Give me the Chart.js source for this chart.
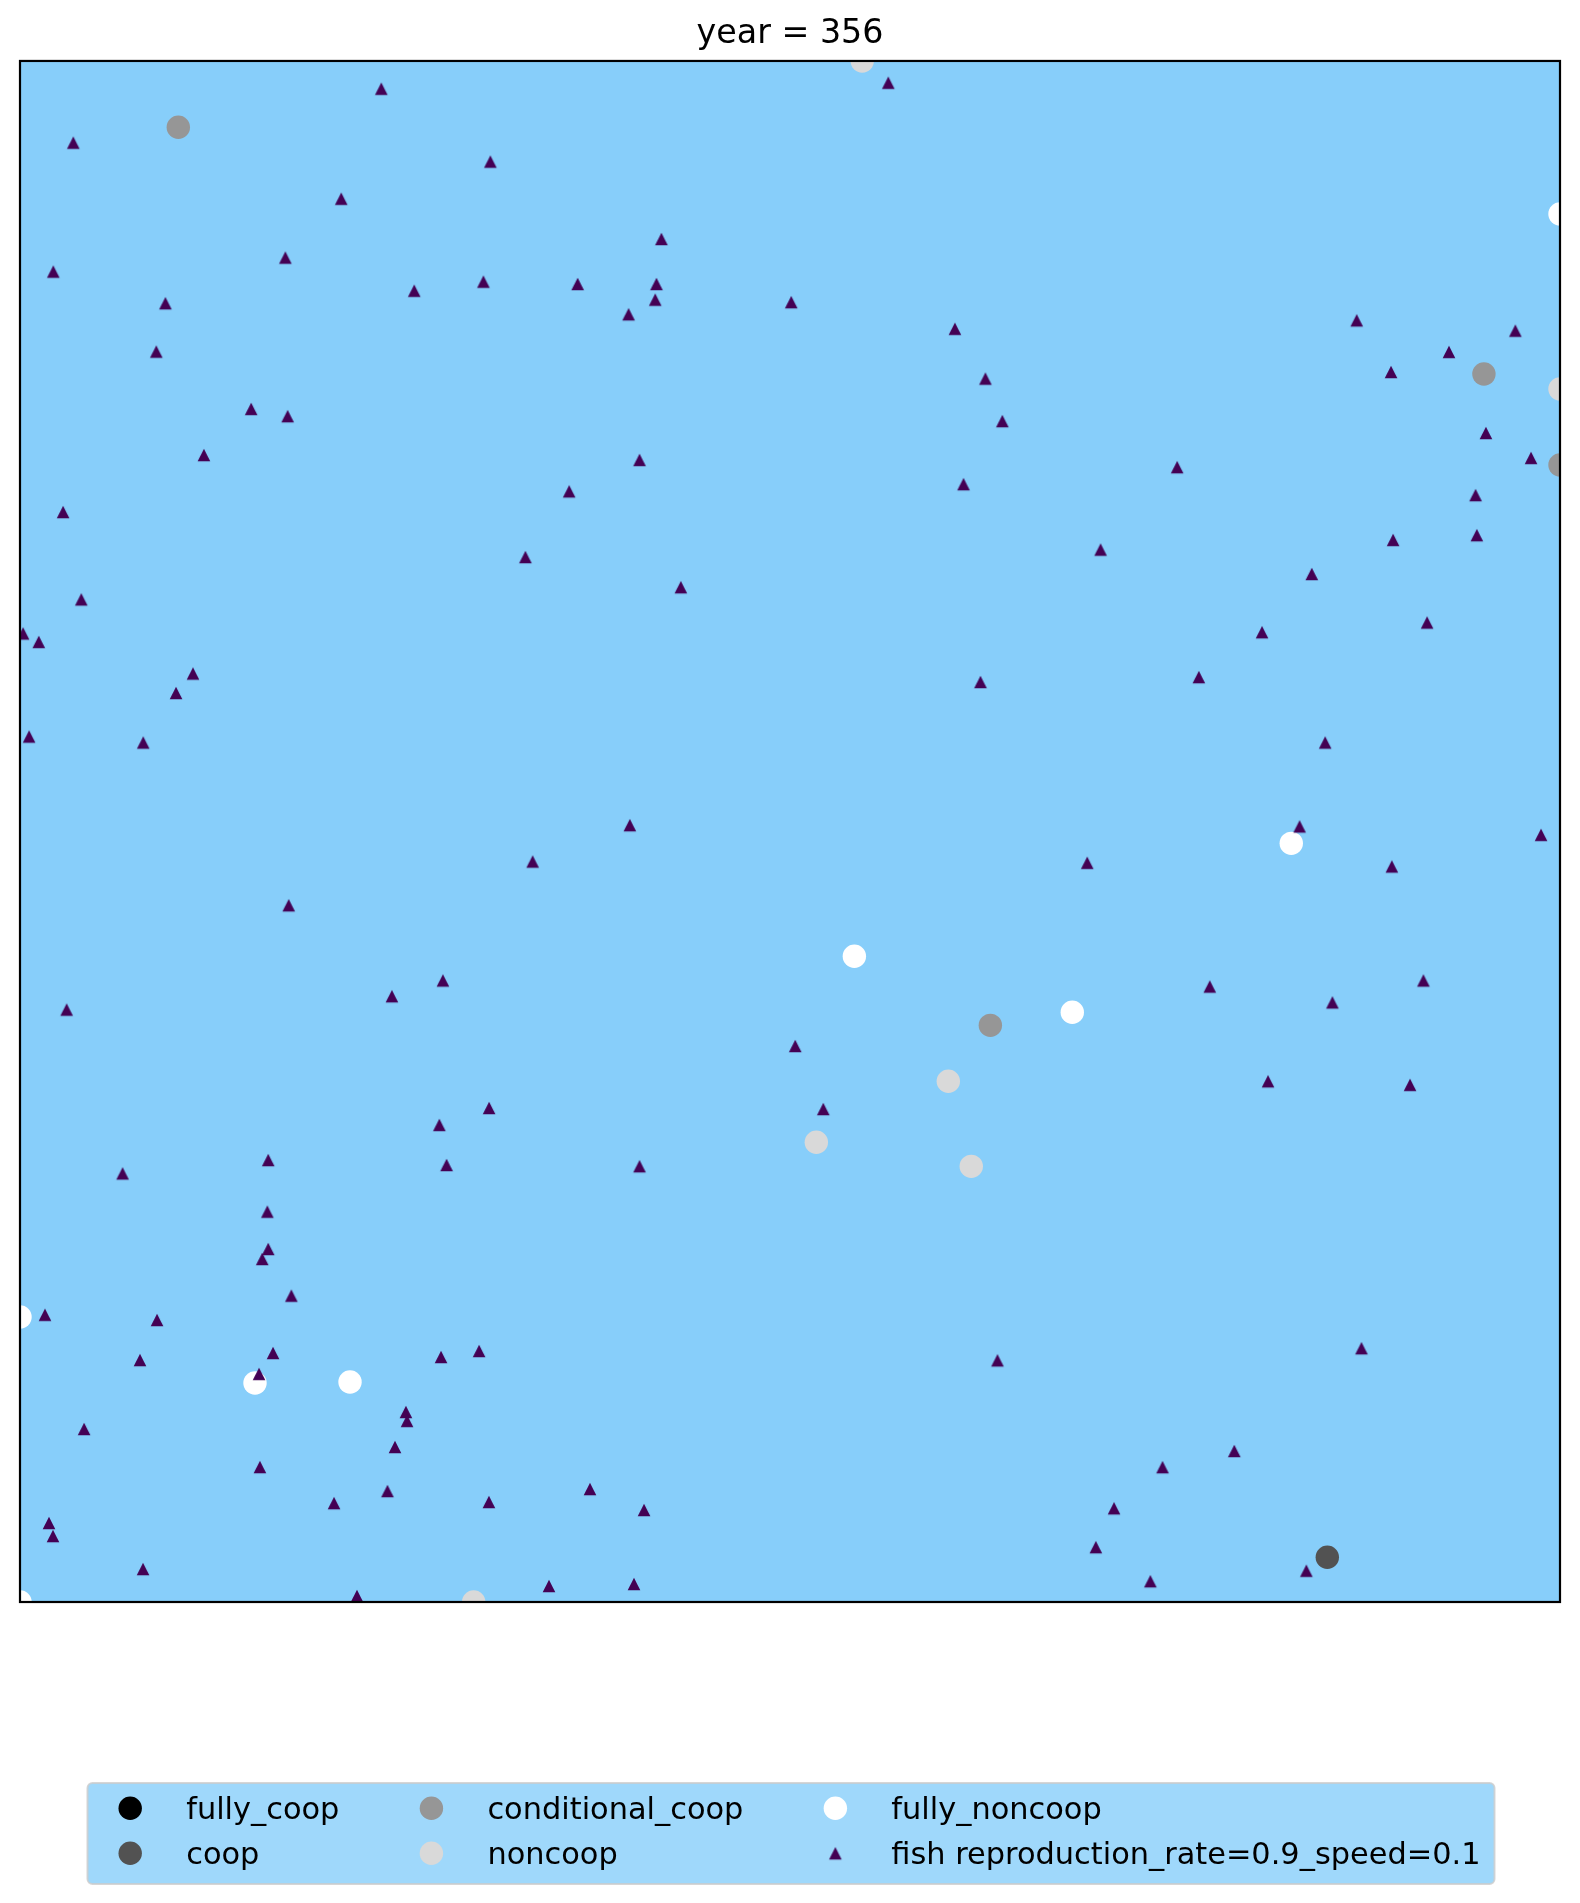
<!DOCTYPE html>
<html><head><meta charset="utf-8">
<script src="https://cdn.jsdelivr.net/npm/chart.js@4.4.0/dist/chart.umd.min.js"></script>
<style>
html,body{margin:0;padding:0;background:#ffffff;}
#wrap{width:1580px;height:1903px;position:relative;}
</style>
</head>
<body>
<div id="wrap"><canvas id="c"></canvas></div>
<script>
// ---------- data ----------
const titleText = 'year = 356';
const seriesLabels = ['fully_coop', 'coop', 'conditional_coop', 'noncoop', 'fully_noncoop', 'fish reproduction_rate=0.9_speed=0.1'];
const seriesColors = ['#000000', '#525252', '#969696', '#d9d9d9', '#ffffff', '#440154'];

const fullyCoopX = [];
const fullyCoopY = [];
const coopX = [84.89];
const coopY = [2.90];
const condCoopX = [10.28, 95.06, 100, 63.01];
const condCoopY = [95.70, 79.69, 73.78, 37.42];
const noncoopX = [54.69, 100, 60.28, 51.71, 61.77, 29.46];
const noncoopY = [100, 78.71, 33.79, 29.83, 28.27, 0];
const fullyNoncoopX = [100, 82.55, 54.18, 68.33, 0, 15.26, 21.43, 0];
const fullyNoncoopY = [90.07, 49.23, 41.90, 38.27, 18.49, 14.21, 14.28, 0];

const fishX = [23.46, 56.38, 3.46, 30.54, 20.86, 17.23, 2.16, 41.65, 9.44, 25.60,
  30.09, 36.21, 41.33, 41.25, 39.52, 50.08, 8.85, 15.01, 17.38, 11.94,
  40.23, 35.66, 2.80, 32.82, 3.98, 42.91, 0.20, 1.22, 11.23, 10.13,
  0.59, 8.00, 39.60, 33.29, 17.45, 3.03, 24.15, 27.46, 50.34, 52.16,
  30.46, 27.23, 6.66, 16.12, 27.70, 40.23, 16.06, 16.12, 15.73, 17.62,
  1.62, 8.90, 7.79, 16.43, 15.52, 27.34, 29.81, 25.06, 25.13, 4.16,
  24.35, 15.58, 23.86, 20.39, 30.45, 37.01, 40.52, 1.88, 2.14, 7.99,
  21.88, 34.35, 39.87, 63.47, 87.11, 78.85, 74.19, 71.04, 69.86, 73.40,
  83.53, 60.71, 62.69, 63.79, 61.27, 75.14, 70.17, 86.80, 89.03, 92.79,
  97.10, 95.19, 98.12, 94.52, 94.60, 89.16, 83.88, 80.65, 91.37, 76.55,
  62.37, 84.75, 83.09, 98.77, 69.30, 89.08, 77.26, 91.13, 85.22, 81.04,
  90.26];
const fishY = [98.20, 98.59, 94.70, 93.47, 91.06, 87.24, 86.33, 88.45, 84.28, 85.09,
  85.68, 85.53, 85.53, 84.51, 83.56, 84.35, 81.14, 77.42, 76.95, 74.43,
  74.11, 72.07, 70.73, 67.81, 65.06, 65.85, 62.85, 62.30, 60.25, 58.99,
  56.16, 55.77, 50.41, 48.05, 45.21, 38.44, 39.31, 40.33, 36.08, 31.99,
  32.06, 30.96, 27.81, 28.68, 28.36, 28.28, 25.33, 22.91, 22.26, 19.88,
  18.64, 18.30, 15.70, 16.16, 14.80, 15.90, 16.29, 12.33, 11.75, 11.23,
  10.06, 8.76, 7.20, 6.42, 6.49, 7.33, 5.97, 5.13, 4.28, 2.14,
  0.39, 1.04, 1.17, 15.68, 16.47, 9.80, 8.75, 6.08, 3.56, 1.35,
  2.03, 82.62, 79.39, 76.63, 72.54, 73.64, 68.29, 83.17, 79.82, 81.12,
  82.50, 75.86, 74.24, 71.83, 69.23, 68.92, 66.71, 62.93, 63.56, 60.02,
  59.70, 55.77, 50.33, 49.78, 47.97, 47.73, 39.94, 40.33, 38.91, 33.79,
  33.56];

// ---------- helpers ----------
function toPoints(xs, ys) { return xs.map((x, i) => ({ x: x, y: ys[i] })); }

function makeTriangle(size, color) {
  const c = document.createElement('canvas');
  const s = 16;
  c.width = s; c.height = s;
  const g = c.getContext('2d');
  const h = size / 2, m = s / 2;
  g.fillStyle = color;
  g.beginPath();
  g.moveTo(m, m - h);
  g.lineTo(m - h, m + h);
  g.lineTo(m + h, m + h);
  g.closePath();
  g.fill();
  return c;
}

const FONT = "'DejaVu Sans', 'Liberation Sans', sans-serif";
const CIRCLE_R = 11.7;
const triImg = makeTriangle(12.6, seriesColors[5]);

const agentSets = [
  [fullyCoopX, fullyCoopY], [coopX, coopY], [condCoopX, condCoopY],
  [noncoopX, noncoopY], [fullyNoncoopX, fullyNoncoopY]
];

const datasets = agentSets.map((xy, i) => ({
  label: seriesLabels[i],
  data: toPoints(xy[0], xy[1]),
  pointStyle: 'circle',
  pointRadius: CIRCLE_R,
  pointBorderWidth: 0,
  pointBackgroundColor: seriesColors[i],
  pointBorderColor: seriesColors[i],
  backgroundColor: seriesColors[i],
  clip: 0,
  order: 5 - i
}));
datasets.push({
  label: seriesLabels[5],
  data: toPoints(fishX, fishY),
  pointStyle: triImg,
  pointRadius: 7,
  pointBorderWidth: 0,
  pointBackgroundColor: seriesColors[5],
  backgroundColor: seriesColors[5],
  clip: 0,
  order: 0
});

// ---------- plugins ----------
const bgPlugin = {
  id: 'bg',
  beforeDatasetsDraw(chart) {
    const a = chart.chartArea, ctx = chart.ctx;
    ctx.save();
    ctx.fillStyle = '#87cefa';
    ctx.fillRect(a.left, a.top, a.right - a.left, a.bottom - a.top);
    ctx.restore();
  }
};

const framePlugin = {
  id: 'frame',
  afterDatasetsDraw(chart) {
    const a = chart.chartArea, ctx = chart.ctx;
    ctx.save();
    ctx.strokeStyle = '#000000';
    ctx.lineWidth = 2.2;
    ctx.strokeRect(a.left, a.top, a.right - a.left, a.bottom - a.top);
    ctx.restore();
  }
};

const legendPlugin = {
  id: 'mplLegend',
  afterDraw(chart) {
    const ctx = chart.ctx;
    const ds = chart.data.datasets;
    const fontSize = 30.4;
    ctx.save();
    ctx.font = fontSize + 'px ' + FONT;
    const ncol = 3, nrow = 2;
    const padL = 42.7, handleToText = 56, colGap = 92, padR = 14;
    const colTextW = [];
    for (let c = 0; c < ncol; c++) {
      let w = 0;
      for (let r = 0; r < nrow; r++) {
        const idx = c * nrow + r;
        if (idx < ds.length) w = Math.max(w, ctx.measureText(ds[idx].label).width);
      }
      colTextW.push(w);
    }
    let total = padL;
    for (let c = 0; c < ncol; c++) {
      total += handleToText + colTextW[c] + (c < ncol - 1 ? colGap : 0);
    }
    total += padR;
    const boxW = total;
    const cx = 791;
    const boxL = cx - boxW / 2;
    const boxT = 1783, boxH = 101;
    const rowY = [boxT + 25.3, boxT + 70.3];

    ctx.beginPath();
    ctx.roundRect(boxL, boxT, boxW, boxH, 5);
    ctx.fillStyle = 'rgba(135,206,250,0.8)';
    ctx.fill();
    ctx.lineWidth = 2;
    ctx.strokeStyle = 'rgba(204,204,204,0.8)';
    ctx.stroke();

    let x = boxL + padL;
    for (let c = 0; c < ncol; c++) {
      for (let r = 0; r < nrow; r++) {
        const idx = c * nrow + r;
        if (idx >= ds.length) continue;
        const d = ds[idx];
        const y = rowY[r];
        if (d.pointStyle === 'circle') {
          ctx.beginPath();
          ctx.arc(x, y, CIRCLE_R, 0, Math.PI * 2);
          ctx.fillStyle = d.pointBackgroundColor;
          ctx.fill();
        } else {
          const img = d.pointStyle;
          ctx.drawImage(img, x - img.width / 2, y - img.height / 2);
        }
        ctx.fillStyle = '#000000';
        ctx.textBaseline = 'alphabetic';
        ctx.textAlign = 'left';
        ctx.fillText(d.label, x + handleToText, y + 10.8);
      }
      x += handleToText + colTextW[c] + colGap;
    }
    ctx.restore();
  }
};

// ---------- chart ----------
new Chart(document.getElementById('c'), {
  type: 'scatter',
  data: { datasets: datasets },
  options: {
    responsive: true,
    maintainAspectRatio: false,
    animation: false,
    events: [],
    layout: { padding: { left: 20, right: 20, top: 0, bottom: 301 } },
    scales: {
      x: { type: 'linear', min: 0, max: 100, display: false },
      y: { type: 'linear', min: 0, max: 100, display: false }
    },
    plugins: {
      legend: { display: false },
      tooltip: { enabled: false },
      title: {
        display: true,
        text: titleText,
        color: '#000000',
        font: { family: FONT, size: 33.3, weight: 'normal', lineHeight: 1.2 },
        padding: { top: 14.5, bottom: 6.5 }
      }
    }
  },
  plugins: [bgPlugin, framePlugin, legendPlugin]
});
</script>
</body></html>
